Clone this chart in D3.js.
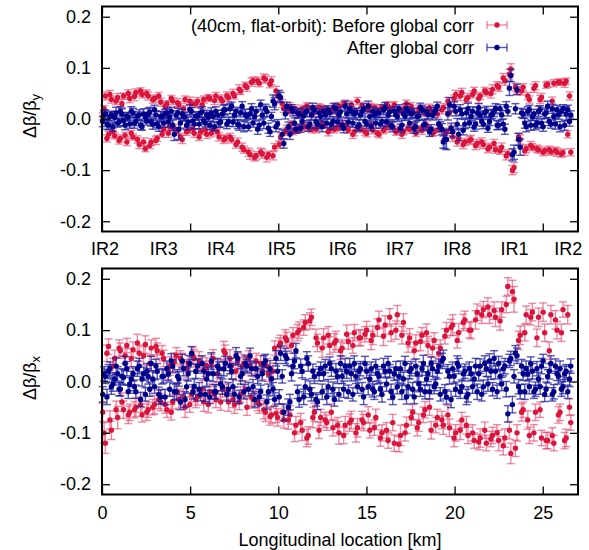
<!DOCTYPE html>
<html><head><meta charset="utf-8">
<script src="https://cdn.jsdelivr.net/npm/d3@7"></script>
<style>body{margin:0;background:#fff} text{font-family:"Liberation Sans",Arial,Helvetica,sans-serif;}</style>
</head><body><svg id="c" width="589" height="550"></svg>
<script>
// BPM longitudinal positions (units: 10 m, i.e. km*100), two interleaved BPM families
const bpmPosA = [
4,19,37,53,72,89,104,122,141,157,
176,192,211,227,246,262,279,298,313,333,
349,368,384,401,421,436,455,471,489,508,
523,542,559,577,594,611,630,646,664,683,
699,717,735,751,770,786,805,822,840,857,
874,892,909,927,944,961,979,996,1013,1031,
1048,1066,1083,1100,1118,1135,1153,1170,1188,1205,
1222,1240,1257,1275,1292,1310,1327,1344,1362,1379,
1397,1414,1431,1449,1466,1484,1501,1519,1536,1553,
1571,1588,1606,1623,1640,1658,1675,1693,1710,1727,
1745,1762,1780,1797,1815,1832,1849,1867,1884,1902,
1919,1936,1954,1971,1989,2006,2023,2041,2058,2076,
2093,2111,2128,2145,2163,2180,2198,2215,2232,2250,
2267,2285,2302,2319,2337,2354,2372,2389,2406,2424,
2441,2459,2476,2493,2511,2528,2546,2563,2581,2598,
2615,2633,2652];
const bpmPosB = [
12,28,45,62,80,97,113,131,149,166,
184,201,219,236,254,271,288,306,322,341,
358,376,393,410,429,445,463,480,498,516,
532,551,568,586,603,620,638,655,673,691,
708,726,743,760,778,795,813,831,848,866,
883,900,918,935,953,970,987,1005,1022,1040,
1057,1075,1092,1109,1127,1144,1162,1179,1196,1214,
1231,1249,1266,1283,1301,1318,1336,1353,1371,1388,
1405,1423,1440,1458,1475,1492,1510,1527,1545,1562,
1579,1597,1614,1632,1649,1667,1684,1701,1719,1736,
1754,1771,1788,1806,1823,1841,1858,1875,1893,1910,
1928,1945,1962,1980,1997,2015,2032,2049,2067,2084,
2102,2119,2137,2154,2171,2189,2206,2224,2241,2258,
2276,2293,2311,2328,2345,2363,2380,2398,2415,2432,
2450,2467,2485,2502,2519,2537,2554,2572,2589,2606,
2624,2642,2659];

// Vertical plane, beta-beat in units of 1e-3
const vertBeforeA = [
5,45,-30,38,-33,42,-38,45,-45,40,
-35,52,-50,48,-58,45,-45,40,-38,33,
-20,30,-15,35,-25,28,-40,38,-22,30,
-28,35,-25,38,-30,40,-20,45,-35,35,
-38,42,-40,45,-45,55,-60,62,-70,75,
-72,70,-68,78,-70,75,-55,45,-35,20,
-20,25,-25,15,-18,20,-15,22,-20,18,
-15,20,-12,15,-20,22,-18,25,-10,30,
-22,28,-25,35,-20,22,-28,25,-22,20,
-30,22,-18,25,-15,28,-22,18,-25,30,
-20,15,-28,20,-22,12,-18,15,-25,10,
-15,22,-25,12,-35,48,-38,52,-45,42,
-40,55,-48,45,-50,52,-55,58,-60,62,
-55,75,-68,98,-95,55,-40,62,-58,38,
-55,65,-60,42,-62,68,-64,70,-65,72,
-66,74,45];
const vertBeforeB = [
20,-38,48,-25,35,-42,30,-32,50,-28,
44,-40,55,-45,50,-52,38,-42,45,-30,
25,-28,40,-18,32,-35,20,-25,35,-20,
30,-35,28,-22,42,-28,36,-25,40,-40,
45,-35,50,-50,58,-55,65,-65,72,-75,
75,-65,80,-75,68,-72,55,-50,30,-25,
15,-10,20,-22,12,-15,25,-18,10,-20,
22,-8,18,-25,15,-20,12,-15,28,-12,
20,-30,15,-18,25,-25,18,-12,22,-28,
18,-22,28,-12,20,-25,15,-30,22,-18,
25,-15,10,-20,18,-12,22,-28,15,-20,
18,-30,35,-20,40,-45,45,-50,38,-42,
48,-52,40,-45,55,-58,50,-48,65,-62,
80,-72,88,-100,62,-35,55,-62,45,-52,
60,-58,38,-65,66,-60,35,-62,72,-68,
70,-30,-65];
const vertBeforeErrA = [
7,8,6,7,6,8,7,6,7,8, 6,7,8,7,6,8,7,7,6,8, 7,6,8,7,7,6,8,7,6,7, 8,7,6,7,8,6,7,7,8,6,
7,8,7,6,8,7,7,8,9,7, 8,7,9,8,7,8,7,9,8,7, 8,7,6,8,7,7,6,8,7,6, 7,8,6,7,7,8,6,7,8,7,
6,7,8,7,6,8,7,6,7,8, 7,6,8,7,7,6,8,7,6,7, 8,7,6,7,8,7,6,8,7,7, 7,8,7,6,9,8,7,8,7,8,
8,7,8,7,8,7,8,9,7,8, 8,9,8,10,10,8,9,7,8,7, 7,8,7,8,7,6,7,7,8,6, 7,6,8];
const vertBeforeErrB = [
6,7,8,6,7,7,8,6,7,6, 8,7,6,8,7,6,7,8,7,6, 7,8,6,7,8,7,6,7,8,7, 6,7,8,7,6,7,8,6,7,8,
8,7,8,7,9,8,7,8,8,7, 7,8,8,9,7,8,9,7,8,7, 6,7,8,6,7,8,7,6,8,7, 8,6,7,8,6,7,8,7,6,7,
7,8,6,7,8,7,6,8,7,6, 8,7,6,8,6,7,7,8,7,6, 7,8,7,6,7,8,7,6,8,7, 8,9,7,8,7,8,9,8,7,8,
7,8,9,8,7,8,9,8,8,7, 9,8,10,9,8,7,8,9,7,8, 8,7,8,7,6,7,8,7,6,7, 8,7,7];
const vertAfterA = [
-5,10,-12,8,3,-8,15,-3,6,-10,
12,-5,8,-15,4,10,-6,18,-10,5,
-8,12,3,-12,8,-20,10,4,-6,15,
-10,6,12,-4,8,-12,5,15,-8,10,
18,-5,25,8,-10,12,-15,6,10,-8,
15,-12,8,20,-18,5,30,-10,42,-48,
25,-30,15,-20,10,-5,12,-15,8,18,
-10,5,15,-8,12,-5,20,8,-12,25,
-6,15,10,-15,8,20,-10,5,15,-8,
12,-5,22,8,-12,15,5,-18,10,20,
-8,12,-15,6,18,-10,8,-20,12,25,
-15,-45,-40,28,-25,15,-30,10,-10,20,
5,-15,12,8,-10,15,-5,10,20,-12,
8,-20,15,85,-65,58,-55,10,-15,18,
5,-12,15,-8,10,25,-10,5,18,-15,
20,10,-5];
const vertAfterB = [
8,-10,5,-15,12,-6,10,-12,4,15,
-8,6,-12,10,-4,14,-10,8,-15,6,
10,-6,15,-30,12,-8,5,-12,18,-4,
6,-10,14,-8,4,12,-15,8,-6,18,
-10,20,-6,15,-12,25,8,-15,20,5,
-20,28,-8,15,-25,35,-15,45,-30,10,
-15,20,-8,12,-18,6,15,-10,22,-6,
12,-15,8,18,-10,22,-6,14,-18,10,
20,-8,12,-12,15,-5,25,-15,8,12,
-10,18,-6,14,-15,8,20,-12,6,15,
10,-18,5,22,-12,15,-25,8,18,-10,
-20,-40,10,-18,25,-10,18,-22,12,-8,
15,-10,22,-5,12,-18,8,15,-12,20,
-10,25,60,-70,20,-40,12,-8,15,-12,
10,-8,18,-15,12,-5,20,-10,8,15,
-12,18,8];
const vertAfterErrA = [
10,8,9,7,12,8,9,10,7,8, 9,8,10,7,9,11,8,9,7,10, 8,9,7,10,8,20,9,8,10,7, 9,8,10,7,9,8,10,9,8,7,
10,9,8,11,9,8,10,7,9,8, 9,10,8,9,10,8,12,9,10,9, 8,10,9,8,9,10,8,9,10,8, 9,8,10,9,8,10,9,8,9,10,
8,9,10,8,9,10,8,9,8,10, 9,8,10,9,8,9,10,8,9,10, 8,9,10,8,9,10,8,9,10,8, 10,12,20,14,10,9,12,10,9,11,
8,9,10,8,9,10,8,9,10,8, 9,10,9,12,14,10,16,9,10,9, 8,9,10,8,9,10,8,12,9,10, 8,14,9];
const vertAfterErrB = [
9,10,8,9,11,8,10,9,8,9, 10,8,9,10,8,9,10,8,9,8, 9,10,8,12,9,10,8,9,10,8, 8,9,10,8,9,10,8,9,10,9,
9,10,9,8,10,9,11,8,10,9, 10,9,11,10,9,12,10,11,9,10, 9,8,10,9,8,9,10,8,9,10, 8,10,9,8,10,9,8,10,9,8,
10,8,9,10,8,9,10,8,9,8, 8,10,9,8,10,9,8,10,9,8, 9,10,8,9,10,8,9,10,8,9, 11,18,12,10,9,11,10,9,10,9,
9,10,8,9,10,8,9,10,9,8, 10,9,14,12,10,12,9,10,9,10, 9,10,8,9,10,8,9,10,8,9, 10,9,8];

// Horizontal plane
const horBeforeA = [
-60,-120,68,-95,45,-70,60,-55,70,-60,
62,-50,55,-65,72,-55,65,-45,60,-40,
45,-55,30,-40,50,-35,40,-50,35,-25,
45,-30,35,-40,30,-20,45,-35,25,-15,
55,-40,30,-45,40,-25,35,-50,30,-35,
40,-45,20,-60,15,-65,65,-70,75,-75,
80,-65,90,-85,100,-95,115,-105,125,-60,
75,-70,85,-80,70,-90,80,-100,65,-85,
78,-75,95,-90,85,-80,100,-95,90,-70,
120,-100,110,-115,95,-120,130,-105,115,-85,
85,-60,75,-80,90,-55,70,-95,80,-70,
65,-85,100,-90,110,-100,95,-75,120,-105,
100,-115,135,-110,140,-120,130,-105,125,-115,
140,-110,185,-140,160,-100,90,-55,130,-105,
135,-60,125,-110,95,-115,130,-120,100,-60,
140,-110,-50];
const horBeforeB = [
-100,55,-75,30,-55,65,-40,50,-65,45,
-55,75,-45,50,-60,35,-50,68,-35,55,
-45,20,-60,38,-20,45,-30,25,-45,50,
-35,40,-15,25,-45,35,-25,15,-40,60,
-20,45,-35,20,-40,30,-15,45,-30,25,
-40,35,-55,30,-68,20,-62,70,-60,85,
-75,70,-100,95,-80,105,-110,118,-70,85,
-95,65,-75,90,-60,75,-85,60,-105,92,
-80,70,-100,85,-75,92,-65,80,-90,105,
-110,88,-95,125,-80,100,-122,90,-100,75,
-70,60,-90,78,-65,95,-50,65,-85,55,
-75,88,-65,105,-110,80,-95,115,-85,100,
-100,120,-118,130,-95,145,-112,138,-100,118,
-125,150,-95,175,-130,80,-60,95,-75,125,
-100,85,-55,135,-115,60,-105,120,-65,95,
-115,130,-80];
const horBeforeErrA = [
18,20,15,18,16,22,15,17,14,16, 15,18,16,14,17,15,16,18,15,17, 16,15,18,14,16,17,15,20,16,15, 17,16,15,18,16,15,17,16,18,15,
16,18,15,17,16,15,18,16,15,17, 15,17,16,18,15,16,14,17,15,16, 16,18,15,17,16,20,15,17,16,18, 17,16,18,15,17,16,18,22,16,17,
15,17,16,18,15,16,17,15,18,16, 17,16,18,15,17,16,18,20,17,16, 18,15,16,17,15,16,18,17,15,16, 16,18,15,17,20,16,18,15,17,16,
17,15,16,18,16,15,17,16,18,20, 15,18,17,20,25,16,18,15,17,16, 17,16,18,15,17,16,18,15,17,16, 15,17,16];
const horBeforeErrB = [
20,16,18,15,17,16,18,15,17,19, 16,17,15,18,16,17,15,16,18,15, 17,16,15,18,17,15,16,18,15,17, 16,18,17,15,16,18,15,17,16,18,
15,17,16,18,15,17,16,15,18,16, 17,16,18,15,17,16,18,15,17,16, 18,15,17,16,18,15,17,16,20,17, 16,18,15,17,16,18,15,17,16,18,
17,15,18,16,17,15,16,18,15,17, 16,18,15,17,16,18,15,17,16,18, 15,17,16,18,15,17,16,18,15,17, 17,15,18,16,17,15,18,16,17,15,
16,18,15,17,16,18,15,17,16,18, 18,16,17,22,16,18,17,16,18,15, 16,17,15,18,16,17,15,18,16,17, 16,18,15];
const horAfterA = [
-25,10,20,-10,5,15,-15,8,25,-5,
15,-20,30,5,-25,10,35,-10,20,-30,
10,25,-15,30,-20,5,40,-35,15,55,
-10,30,-25,20,5,-30,15,-20,25,-10,
35,-15,20,-25,45,10,-20,30,50,-10,
25,-30,15,40,-20,5,-35,20,55,-60,
45,-40,30,60,-35,20,-10,35,-25,10,
-40,25,15,-30,35,-15,20,-25,10,30,
-20,15,35,-10,25,-30,20,5,-15,30,
10,-25,20,35,-20,15,-10,25,5,-30,
20,-15,30,-5,25,-20,15,35,-10,20,
-25,45,-30,10,25,-15,30,-10,20,-25,
15,5,-20,30,-10,25,40,-15,20,35,
-5,30,-63,45,10,50,-20,15,25,-10,
20,-15,5,30,-25,10,35,-20,15,25,
-10,20,5];
const horAfterB = [
15,-30,25,-5,30,-15,10,35,-20,5,
-10,25,-35,15,20,-15,5,30,-25,10,
-30,15,40,-20,10,-40,25,-10,35,-20,
20,-15,35,-25,15,40,-20,30,-5,25,
-25,30,-10,50,-30,15,35,-15,25,-35,
10,-20,35,-40,25,-15,45,-30,10,50,
-50,15,40,-20,30,-30,45,-15,20,-35,
15,-20,30,-10,25,-35,10,35,-15,20,
30,-25,10,20,-15,35,-10,25,-20,15,
-15,30,-5,20,-30,25,10,-20,35,-10,
25,-30,15,-15,35,5,-20,25,-5,30,
40,-20,20,-35,10,35,-20,15,-30,25,
-10,30,15,-25,35,-5,20,45,-20,10,
25,-15,40,-45,55,-10,30,-20,15,35,
-20,25,-10,40,-15,20,-25,30,10,-15,
15,-20,30];
const horAfterErrA = [
15,14,13,15,12,14,13,15,14,13, 14,13,15,14,13,15,14,13,15,14, 13,15,14,13,15,14,13,15,14,13, 15,14,13,15,14,13,15,14,13,15,
14,13,15,14,13,15,14,13,15,14, 13,15,14,13,15,14,13,15,14,16, 14,15,13,14,15,13,14,15,13,14, 15,13,14,15,13,14,15,13,14,15,
13,14,15,13,14,15,13,14,15,13, 14,15,13,14,15,13,14,15,13,14, 15,13,14,15,13,14,15,13,14,15, 13,16,14,15,13,14,15,13,14,15,
14,13,15,14,13,15,14,13,15,14, 13,15,16,14,13,15,14,13,15,14, 15,14,13,15,14,13,15,14,13,15, 14,13,15];
const horAfterErrB = [
14,15,13,14,16,13,15,14,13,15, 13,15,14,13,15,14,16,13,14,15, 15,13,14,16,13,15,14,13,15,14, 14,13,15,14,13,16,14,15,13,14,
13,15,14,16,13,14,15,13,14,15, 14,13,15,14,16,13,15,14,13,15, 16,14,15,13,14,15,13,16,14,13, 14,15,13,14,15,13,14,15,16,14,
15,13,14,15,13,14,16,13,15,14, 13,15,14,13,15,14,13,15,14,16, 14,13,15,14,16,13,14,15,13,14, 15,14,13,16,14,15,13,14,15,13,
13,15,14,13,15,14,16,15,13,14, 14,15,13,16,15,14,13,15,14,13, 13,14,15,13,14,15,13,14,15,14, 15,13,14];

const yTicks = [-0.2,-0.1,0.0,0.1,0.2];
const kmTicks = [0,5,10,15,20,25];
const irLabels = ["IR2","IR3","IR4","IR5","IR6","IR7","IR8","IR1","IR2"];
const irKm = [0.17,3.5,6.75,10.2,13.65,16.9,20.15,23.4,26.45];
const seriesNames = ["(40cm, flat-orbit): Before global corr","After global corr"];

const RED="#dc143c", RED_BAR="rgba(228,60,100,0.6)", BLUE="#00008b", BLUE_BAR="rgba(30,30,160,0.75)";
const svg=d3.select("#c");
const L=102,R=578;
const x=d3.scaleLinear().domain([0,27]).range([L,R]);
const FS=18;

function toPts(vA,eA,vB,eB){
  const a=bpmPosA.map((p,i)=>({x:p/100,y:vA[i]/1000,e:eA[i]/1000}));
  const b=bpmPosB.map((p,i)=>({x:p/100,y:vB[i]/1000,e:eB[i]/1000}));
  return a.concat(b);
}

function panel(top,bottom,series,showKm,ylab,sub,labY){
  const y=d3.scaleLinear().domain([-0.22,0.22]).range([bottom,top]);
  const g=svg.append("g");
  series.forEach(s=>{
    const pts=s.pts;
    const eg=g.append("g").attr("stroke",s.bar).attr("stroke-width",1.4).attr("fill","none");
    pts.forEach(d=>{
      const cx=x(d.x), y1=y(d.y-d.e), y2=y(d.y+d.e);
      eg.append("line").attr("x1",cx).attr("x2",cx).attr("y1",y1).attr("y2",y2);
      eg.append("line").attr("x1",cx-4).attr("x2",cx+4).attr("y1",y1).attr("y2",y1);
      eg.append("line").attr("x1",cx-4).attr("x2",cx+4).attr("y1",y2).attr("y2",y2);
    });
    g.append("g").selectAll("circle").data(pts).join("circle")
      .attr("cx",d=>x(d.x)).attr("cy",d=>y(d.y)).attr("r",2.7).attr("fill",s.pt);
  });
  const fmt=d=>d.toFixed(1);
  const ax=(a)=>a.attr("font-size",FS).attr("font-family",null).call(s=>s.select(".domain").remove())
      .call(s=>s.selectAll("line").attr("stroke-width",1.3)).call(s=>s.selectAll("text").attr("fill","#000"));
  svg.append("g").attr("transform",`translate(${L},0)`).call(d3.axisLeft(y).tickValues(yTicks).tickFormat(fmt).tickSizeInner(-8).tickSizeOuter(0).tickPadding(11)).call(ax);
  svg.append("g").attr("transform",`translate(${R},0)`).call(d3.axisRight(y).tickValues(yTicks).tickFormat("").tickSizeInner(-8).tickSizeOuter(0)).call(ax);
  svg.append("g").attr("transform",`translate(0,${top})`).call(d3.axisTop(x).tickValues(kmTicks).tickFormat("").tickSizeInner(-8).tickSizeOuter(0)).call(ax);
  svg.append("g").attr("transform",`translate(0,${bottom})`).call(d3.axisBottom(x).tickValues(kmTicks).tickFormat(showKm?d3.format("d"):"").tickSizeInner(-8).tickSizeOuter(0).tickPadding(12)).call(ax);
  svg.append("rect").attr("x",L).attr("y",top).attr("width",R-L).attr("height",bottom-top)
    .attr("fill","none").attr("stroke","#000").attr("stroke-width",2);
  const t=svg.append("text").attr("transform",`translate(36,${labY}) rotate(-90)`).attr("text-anchor","middle").attr("font-size",FS);
  t.append("tspan").text(ylab);
  t.append("tspan").attr("font-size",13).attr("dy",4).text(sub);
  return y;
}

panel(6.5,231.5,[
  {pts:toPts(vertBeforeA,vertBeforeErrA,vertBeforeB,vertBeforeErrB),pt:RED,bar:RED_BAR},
  {pts:toPts(vertAfterA,vertAfterErrA,vertAfterB,vertAfterErrB),pt:BLUE,bar:BLUE_BAR}],false,"Δβ/β","y",116);
panel(268.5,494.5,[
  {pts:toPts(horBeforeA,horBeforeErrA,horBeforeB,horBeforeErrB),pt:RED,bar:RED_BAR},
  {pts:toPts(horAfterA,horAfterErrA,horAfterB,horAfterErrB),pt:BLUE,bar:BLUE_BAR}],true,"Δβ/β","x",378);

svg.append("g").selectAll("text").data(irLabels).join("text")
  .attr("x",(d,i)=>x(irKm[i])).attr("y",254.5).attr("text-anchor","middle").attr("font-size",FS).text(d=>d);
svg.append("text").attr("x",(L+R)/2).attr("y",546).attr("text-anchor","middle").attr("font-size",FS).text("Longitudinal location [km]");
const leg=[{name:seriesNames[0],pt:RED,bar:RED_BAR,y:25},{name:seriesNames[1],pt:BLUE,bar:BLUE_BAR,y:47.5}];
leg.forEach(l=>{
  svg.append("text").attr("x",474).attr("y",l.y+6.5).attr("text-anchor","end").attr("font-size",FS).text(l.name);
  const g=svg.append("g").attr("stroke",l.bar).attr("stroke-width",1.4);
  g.append("line").attr("x1",487).attr("x2",507).attr("y1",l.y).attr("y2",l.y);
  g.append("line").attr("x1",487).attr("x2",487).attr("y1",l.y-4).attr("y2",l.y+4);
  g.append("line").attr("x1",507).attr("x2",507).attr("y1",l.y-4).attr("y2",l.y+4);
  svg.append("circle").attr("cx",497).attr("cy",l.y).attr("r",2.7).attr("fill",l.pt);
});
</script></body></html>
